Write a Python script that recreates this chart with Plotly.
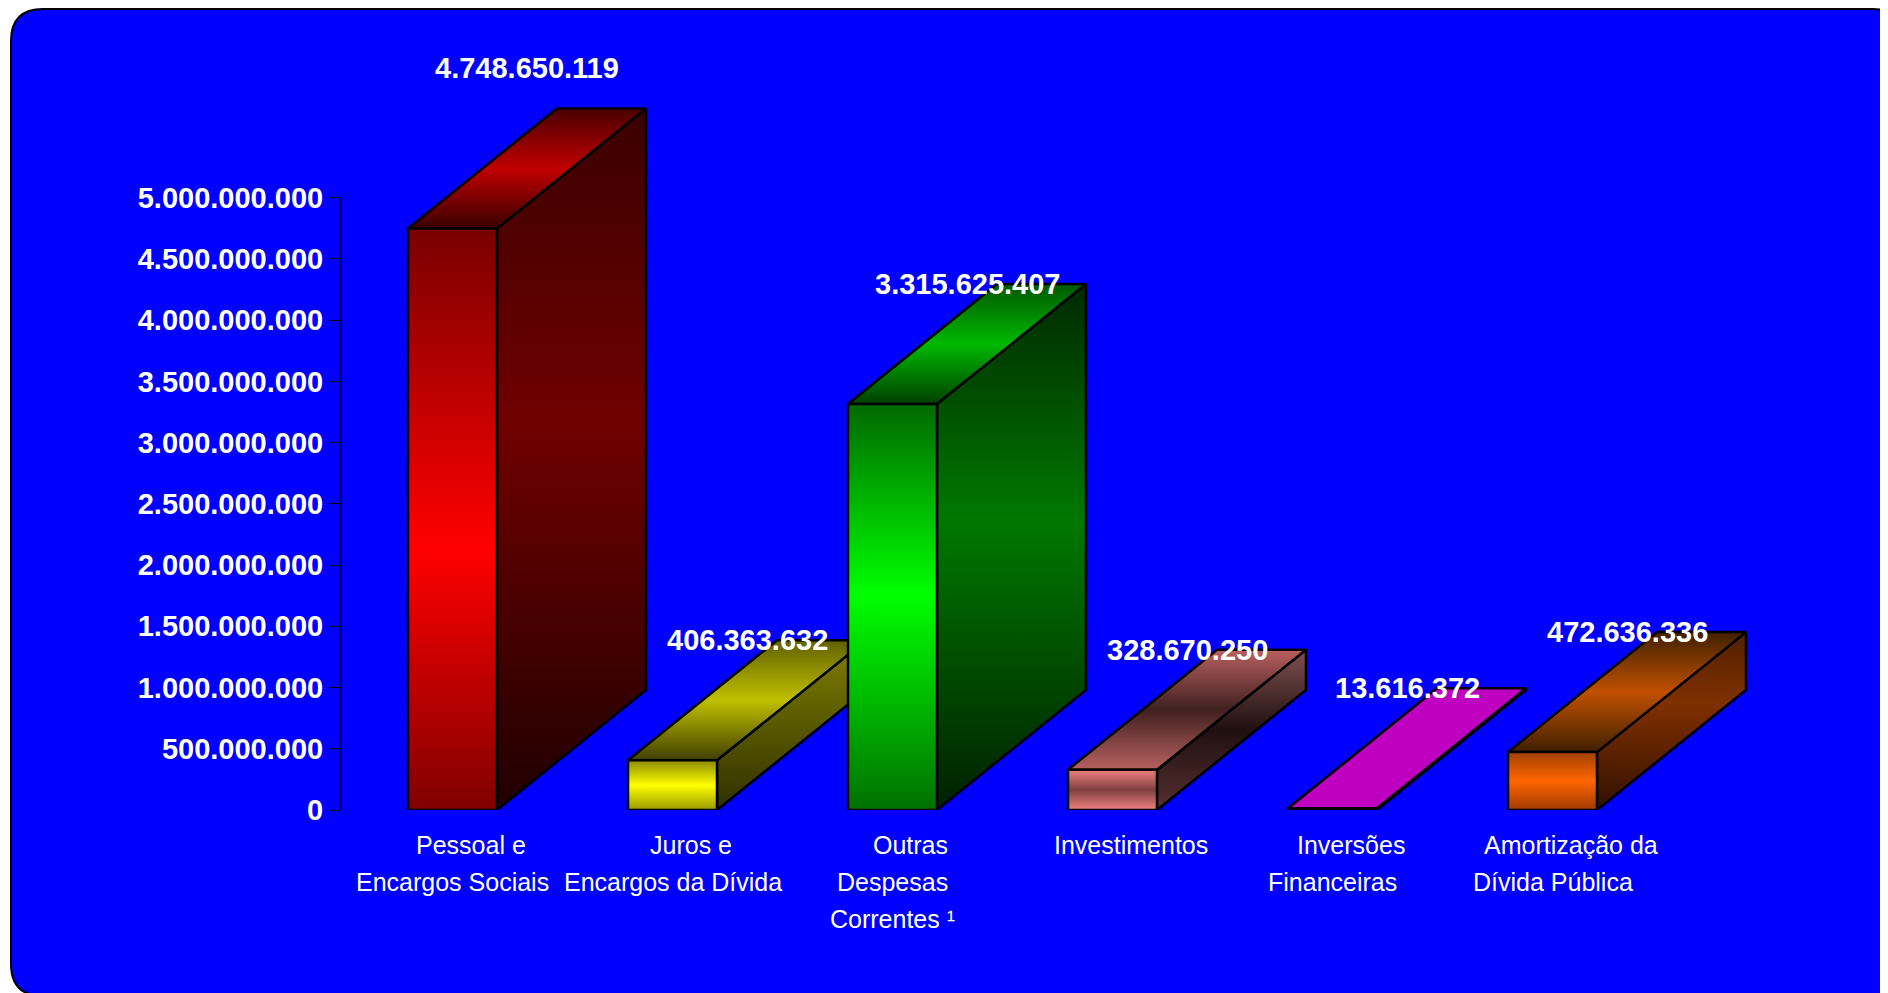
import plotly.graph_objects as go

# ---------------- data ----------------
categories = [
    "Pessoal e<br>Encargos Sociais",
    "Juros e<br>Encargos da Dívida",
    "Outras<br>Despesas<br>Correntes ¹",
    "Investimentos",
    "Inversões<br>Financeiras",
    "Amortização da<br>Dívida Pública",
]
values = [4748650119, 406363632, 3315625407, 328670250, 13616372, 472636336]
y_tickvals = [0, 500e6, 1000e6, 1500e6, 2000e6, 2500e6, 3000e6, 3500e6, 4000e6, 4500e6, 5000e6]
y_ticktext = ["0", "500.000.000", "1.000.000.000", "1.500.000.000", "2.000.000.000",
              "2.500.000.000", "3.000.000.000", "3.500.000.000", "4.000.000.000",
              "4.500.000.000", "5.000.000.000"]

# ---------------- style ----------------
# (front, side, top) colour scales: 0 = bottom of face, 1 = top of face
styles = [
    dict(front=[[0, "#800000"], [0.45, "#ff0000"], [1, "#780000"]],
         side=[[0, "#200000"], [0.55, "#700000"], [1, "#3a0000"]],
         top=[[0, "#3a0000"], [0.5, "#c00000"], [1, "#4a0000"]]),
    dict(front=[[0, "#9a9a00"], [0.5, "#ffff00"], [1, "#8a8a00"]],
         side=[[0, "#303000"], [1, "#808000"]],
         top=[[0, "#404000"], [0.5, "#c0c000"], [1, "#606000"]]),
    dict(front=[[0, "#007000"], [0.53, "#00ff00"], [1, "#006800"]],
         side=[[0, "#002000"], [0.55, "#007800"], [1, "#002800"]],
         top=[[0, "#004000"], [0.5, "#00b800"], [1, "#005800"]]),
    dict(front=[[0, "#f08080"], [0.5, "#804040"], [1, "#f08080"]],
         side=[[0, "#583030"], [0.5, "#201010"], [1, "#805050"]],
         top=[[0, "#b86060"], [0.5, "#402020"], [1, "#b86060"]]),
    dict(front=[[0, "#c000c0"], [1, "#c000c0"]],
         side=[[0, "#800080"], [1, "#800080"]],
         top=[[0, "#c000c0"], [1, "#c000c0"]]),
    dict(front=[[0, "#a03a00"], [0.5, "#ff6600"], [1, "#a04000"]],
         side=[[0, "#301000"], [0.6, "#803000"], [1, "#502000"]],
         top=[[0, "#402000"], [0.5, "#c05000"], [1, "#402000"]]),
]

OFF = 8  # page body margin
W, H = 1888 - OFF, 993 - OFF
ML, MR, MT = 341 - OFF, 115, 40 - OFF
MB = H - (810 - OFF)
PW, PH = W - ML - MR, H - MT - MB
PX_PER_CAT = 220.0
PX_PER_Y = 122.46 / 1e9
x0 = -(452.5 - 341) / PX_PER_CAT
x_range = [x0, x0 + PW / PX_PER_CAT]
y_range = [0, PH / PX_PER_Y]

BW = 44.5 / PX_PER_CAT        # half front width
DX = 149 / PX_PER_CAT         # depth in x
DY = 120 / PX_PER_Y           # depth in y
OUTLINE = dict(color="black", width=2.5)
FONT = "Liberation Sans, Arial, sans-serif"

fig = go.Figure()


def face(xs, ys, scale):
    fig.add_trace(go.Scatter(
        x=xs + [xs[0]], y=ys + [ys[0]], mode="lines", fill="toself",
        fillgradient=dict(type="vertical", colorscale=scale),
        line=OUTLINE, hoverinfo="skip", showlegend=False))


for i, (v, st) in enumerate(zip(values, styles)):
    face([i + BW, i + BW + DX, i + BW + DX, i + BW],
         [0, DY, v + DY, v], st["side"])
    face([i - BW, i + BW, i + BW + DX, i - BW + DX],
         [v, v, v + DY, v + DY], st["top"])
    face([i - BW, i + BW, i + BW, i - BW],
         [0, 0, v, v], st["front"])

label_font = dict(family=FONT, size=29, color="white", weight="bold")
for i, v in enumerate(values):
    fig.add_annotation(
        x=i + DX / 2, y=v + DY, xref="x", yref="y",
        text=f"{v:,}".replace(",", "."), showarrow=False,
        font=label_font, xanchor="center", yanchor="middle",
        yshift=40 if i == 0 else 0)

# category labels, one annotation per line (line pitch as in reference)
cat_font = dict(family=FONT, size=25, color="white")
for i, cat in enumerate(categories):
    for k, line in enumerate(cat.split("<br>")):
        fig.add_annotation(
            x=i, y=0, xref="x", yref="y", text=line, showarrow=False,
            font=cat_font, xanchor="center", yanchor="middle",
            xshift=18 if k == 0 else 0,
            yshift=-(35 + 37 * k))


def xp(px):
    return (px - OFF - ML) / PW


def yp(py):
    return (H - MB - (py - OFF)) / PH


bx0, by0, bx1, by1, r = 11, 9, 1905, 996, 32
path = (
    f"M {xp(bx0 + r)},{yp(by0)} L {xp(bx1 - r)},{yp(by0)} "
    f"Q {xp(bx1)},{yp(by0)} {xp(bx1)},{yp(by0 + r)} "
    f"L {xp(bx1)},{yp(by1 - r)} Q {xp(bx1)},{yp(by1)} {xp(bx1 - r)},{yp(by1)} "
    f"L {xp(bx0 + r)},{yp(by1)} Q {xp(bx0)},{yp(by1)} {xp(bx0)},{yp(by1 - r)} "
    f"L {xp(bx0)},{yp(by0 + r)} Q {xp(bx0)},{yp(by0)} {xp(bx0 + r)},{yp(by0)} Z"
)
fig.add_shape(type="path", path=path, xref="paper", yref="paper",
              fillcolor="#0000ff", line=dict(color="black", width=2), layer="below")

fig.add_shape(type="line", xref="paper", yref="y", x0=0, x1=0,
              y0=y_tickvals[0], y1=y_tickvals[-1], line=dict(color="black", width=1.2))

fig.update_layout(
    width=W, height=H, autosize=False,
    margin=dict(l=ML, r=MR, t=MT, b=MB, pad=0),
    paper_bgcolor="white", plot_bgcolor="rgba(0,0,0,0)",
    showlegend=False,
    xaxis=dict(range=x_range, showticklabels=False,
               showgrid=False, zeroline=False, showline=False, ticks="", fixedrange=True),
    yaxis=dict(range=y_range, tickvals=y_tickvals, ticktext=y_ticktext,
               showgrid=False, zeroline=False, showline=False,
               ticks="outside", ticklen=11, tickwidth=1.2, tickcolor="black",
               tickfont=dict(family=FONT, size=29, color="white", weight="bold"),
               fixedrange=True),
)

fig.write_html("out.html")
